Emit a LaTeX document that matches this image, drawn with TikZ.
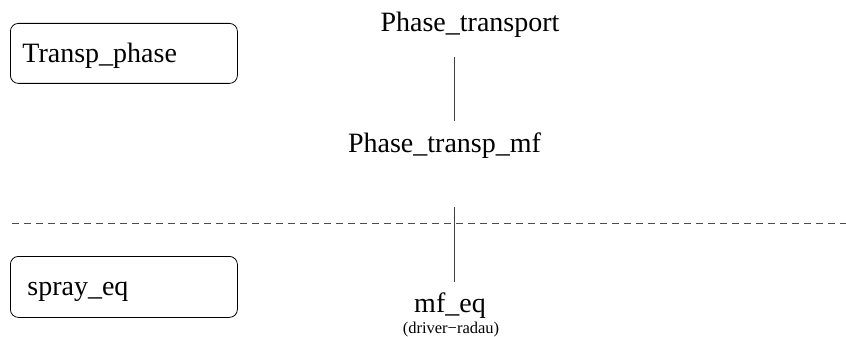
\documentclass[tikz,border=0pt]{standalone}
\usepackage{fontspec}
\setmainfont{Liberation Serif}
\usepackage{tikz}
\usetikzlibrary{positioning}

\begin{document}
\begin{tikzpicture}[
  x=1pt, y=-1pt,
  label/.style={inner sep=0pt, font=\fontsize{28}{32}\selectfont},
  note/.style={inner sep=0pt, font=\fontsize{16.5}{19}\selectfont},
  box/.style={
    draw, rounded corners=8pt, line width=0.8pt, anchor=north west,
    minimum width=227pt, text width=203pt, align=left, inner xsep=12pt,
    text height=19pt, text depth=1pt, font=\fontsize{28}{32}\selectfont
  },
  link/.style={draw=black!75, line width=0.8pt},
  sepline/.style={draw=black!70, line width=0.8pt, dash pattern=on 6.5pt off 5.5pt}
]
\useasboundingbox (0,0) rectangle (846,337);

% left column
\node[box, minimum height=60pt] (transp) at (10,23) {Transp\_phase};
\node[box, minimum height=61pt, text width=193pt, inner xsep=17pt] (spray) at (10,256) {spray\_eq};

% middle column
\node[label, anchor=base] (ptrans) at (470,32) {Phase\_transport};
\node[label, anchor=base] (ptmf) at (444.5,152) {Phase\_transp\_mf};
\node[label, anchor=base] (mfeq) at (450,312) {mf\_eq};
\node[note, anchor=base] (radau) at (451,333) {(driver−radau)};

% separator
\coordinate (dashL) at (12,223);
\coordinate (dashR) at (846,223);
\draw[sepline] (dashL) -- (dashR);

% links
\coordinate (cut) at (454,207);
\draw[link, shorten <=19pt, shorten >=11pt]
  ([xshift=-16pt]ptrans.south) -- ([xshift=9.5pt]ptmf.north);
\draw[link, shorten >=10pt] (cut) -- ([xshift=4pt]mfeq.north);
\end{tikzpicture}
\end{document}
